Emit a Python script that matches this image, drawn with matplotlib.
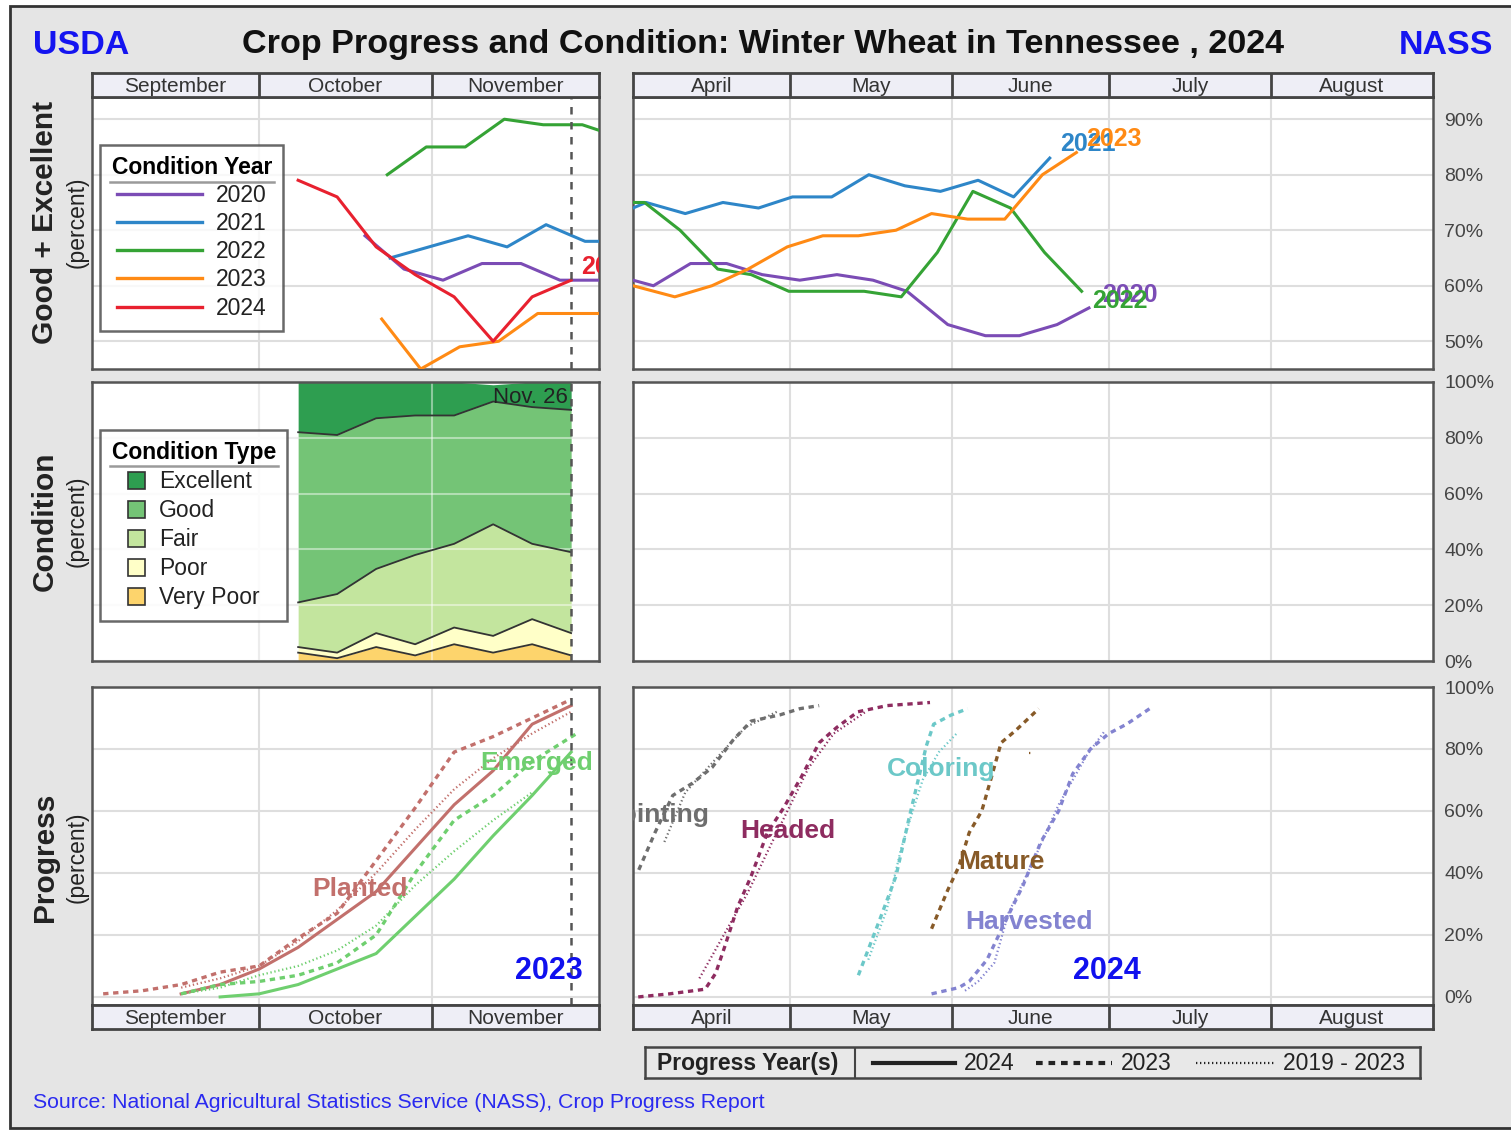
import matplotlib.pyplot as plt
from matplotlib.lines import Line2D
from matplotlib.patches import Rectangle
import numpy as np

plt.rcParams['font.family'] = ['Liberation Sans', 'DejaVu Sans']

W, H = 1511, 1131

# ---------------- data ----------------
# fall panels: x = days after Sep 1, spring panels: x = days after Apr 1
fall_months = ['September', 'October', 'November']
fall_month_len = [30, 31, 30]
spring_months = ['April', 'May', 'June', 'July', 'August']
spring_month_len = [30, 31, 30, 31, 31]

years = ['2020', '2021', '2022', '2023', '2024']
year_colors = ['#7b4cb5', '#2e86c8', '#35a335', '#ff8a14', '#e8212f']

# good + excellent, fall
fall_ge_days = {
    '2020': [49, 56, 63, 70, 77, 84, 91],
    '2021': [53.5, 60.5, 67.5, 74.5, 81.5, 88.5, 91],
    '2022': [53, 60, 67, 74, 81, 88, 91],
    '2023': [52, 59, 66, 73, 80, 87, 91],
    '2024': [37, 44, 51, 58, 65, 72, 79, 86],
}
fall_ge_vals = {
    '2020': [69, 63, 61, 64, 64, 61, 61],
    '2021': [65, 67, 69, 67, 71, 68, 68],
    '2022': [80, 85, 85, 90, 89, 89, 88],
    '2023': [54, 45, 49, 50, 55, 55, 55],
    '2024': [79, 76, 67, 62, 58, 50, 58, 61],
}

# good + excellent, spring
spring_ge_days = {
    '2020': [0, 3.9, 11, 17.9, 24.7, 31.9, 39, 45.9, 52.4, 60.2, 67.4, 73.9, 81.1, 87.2],
    '2021': [0, 2.5, 10, 17.2, 24, 30.5, 38, 45.1, 52, 58.8, 66, 72.8, 79.7],
    '2022': [0, 2.2, 9, 16.2, 22.6, 29.8, 37, 44.2, 51.3, 58.2, 65, 72.2, 78.7, 85.8],
    '2023': [0, 8, 15.1, 22, 29.5, 36.3, 43.1, 50.3, 57.1, 64, 71.1, 78.3, 84.8],
}
spring_ge_vals = {
    '2020': [61, 60, 64, 64, 62, 61, 62, 61, 59, 53, 51, 51, 53, 56],
    '2021': [74, 75, 73, 75, 74, 76, 76, 80, 78, 77, 79, 76, 83],
    '2022': [75, 75, 70, 63, 62, 59, 59, 59, 58, 66, 77, 74, 66, 59],
    '2023': [60, 58, 60, 63, 67, 69, 69, 70, 73, 72, 72, 80, 84],
}

# condition of the 2024 crop (fall 2023)
cond_days = [37, 44, 51, 58, 65, 72, 79, 86]
cond_types = ['Excellent', 'Good', 'Fair', 'Poor', 'Very Poor']
cond_colors = ['#2e9e50', '#74c476', '#c3e59e', '#ffffc8', '#fdd46c']
very_poor = [3, 1, 5, 2, 6, 3, 6, 2]
poor = [2, 2, 5, 4, 6, 6, 9, 8]
fair = [16, 21, 23, 32, 30, 40, 27, 29]
good = [61, 57, 54, 50, 46, 44, 49, 51]
excellent = [18, 19, 13, 12, 12, 6, 9, 10]

# progress, fall (planted / emerged)
planted_24_days = [16, 23, 30, 37, 44, 51, 58, 65, 72, 79, 86]
planted_24 = [1, 4, 9, 16, 25, 34, 48, 62, 73, 88, 94]
planted_23_days = [2, 9, 16, 23, 30, 37, 44, 51, 58, 65, 72, 79, 86]
planted_23 = [1, 2, 4, 8, 10, 19, 27, 44, 61, 79, 84, 90, 96]
planted_avg_days = [16, 23, 30, 37, 44, 51, 58, 65, 72, 79, 86]
planted_avg = [3, 6, 10, 18, 28, 40, 54, 67, 77, 85, 92]

emerged_24_days = [23, 30, 37, 44, 51, 58, 65, 72, 79, 86]
emerged_24 = [0, 1, 4, 9, 14, 26, 38, 52, 65, 79]
emerged_23_days = [16, 23, 30, 37, 44, 51, 58, 65, 72, 79, 87]
emerged_23 = [1, 4, 5, 7, 11, 20, 40, 57, 65, 76, 85]
emerged_avg_days = [16, 23, 30, 37, 44, 51, 58, 65, 72, 79]
emerged_avg = [1, 3, 7, 10, 15, 23, 36, 47, 57, 66]

# progress, spring (2023 and 5-yr average)
jointing_23_days = [1.1, 4.2, 7.6, 11.4, 15.1, 19.2, 22.6, 28.1, 31.9, 35.6]
jointing_23 = [41, 53, 65, 69, 74, 83, 89, 91, 93, 94]
jointing_avg_days = [6, 10, 16.5, 21.5, 27.5]
jointing_avg = [50, 66, 78, 87, 92]

headed_23_days = [1, 7, 13.8, 15.8, 17.5, 20, 22.6, 25.7, 28.8, 32.2, 35.6, 39, 43, 48.6, 56.8]
headed_23 = [0, 1, 2.5, 7.6, 16, 29, 39, 53, 61, 71, 82, 87, 92, 94, 95]
headed_avg_days = [12.7, 17.2, 21.9, 26.8, 33.6, 38.4, 44.5]
headed_avg = [6, 19.5, 33.5, 50.6, 74, 85, 92]

coloring_23_days = [43.1, 47.2, 50.3, 52.7, 54.4, 56.1, 57.5, 60.9, 64]
coloring_23 = [7, 25, 39, 57, 69, 81, 88, 91, 93]
coloring_avg_days = [45, 48.5, 51.3, 53.5, 55.4, 58.5, 61.9]
coloring_avg = [12, 28, 48, 60, 70, 79, 85]

mature_23_days = [57.1, 60.2, 62.3, 64.3, 66.7, 68.4, 70.4, 73.2, 77.6]
mature_23 = [22, 34.5, 42, 53, 60, 70, 82, 86, 93]
mature_avg_days = [75.7, 76.1]
mature_avg = [78.7, 78.7]

harvested_23_days = [57.1, 62.3, 64.3, 67.7, 71.1, 74.6, 78, 81.4, 84.1, 87.5, 91, 94.4, 98.8]
harvested_23 = [1, 3, 5, 12, 24, 36, 50, 60, 72, 80, 85, 88, 93]
harvested_avg_days = [63.5, 66, 69.1, 71.8, 76.6, 81.4, 86.8, 90.3]
harvested_avg = [2, 5, 11, 27, 44, 62, 78, 86]

stage_colors = {'Planted': '#c2706c', 'Emerged': '#6fcf6f', 'Jointing': '#6e6e6e',
                'Headed': '#8e2c60', 'Coloring': '#6cc8c8', 'Mature': '#875a28',
                'Harvested': '#8383d0'}

# ---------------- layout helpers ----------------
fig = plt.figure(figsize=(W / 100, H / 100), dpi=100)
fig.patch.set_facecolor('white')
fig.patches.append(Rectangle((10 / W, 1 - 1128 / H), 1.2, (1128 - 6) / H, transform=fig.transFigure,
                             facecolor='#e5e5e5', edgecolor='#333333', lw=2, zorder=-10))


def px_axes(x0, y0, x1, y1, **kw):
    return fig.add_axes([x0 / W, 1 - y1 / H, (x1 - x0) / W, (y1 - y0) / H], **kw)


SOLID = '-'
DASH = (0, (1.6, 1.4))
DOT = (0, (0.6, 1.2))
GRID = '#dedede'


def style_panel(ax, xmax, month_len, ylim, yticks, ylabels=None, right_labels=True):
    ax.set_xlim(0, xmax)
    ax.set_ylim(*ylim)
    ax.set_facecolor('white')
    ax.set_xticks([])
    ax.set_yticks(yticks)
    for yv in yticks:
        ax.axhline(yv, color=GRID, lw=1.5, zorder=0.5)
    for b in np.cumsum(month_len)[:-1]:
        ax.axvline(b, color=GRID, lw=1.5, zorder=0.5)
    if right_labels:
        ax.yaxis.tick_right()
        ax.set_yticklabels(ylabels, fontsize=14, color='#444444')
        ax.tick_params(axis='y', length=0, pad=8)
    else:
        ax.set_yticklabels([])
        ax.tick_params(axis='y', length=0)
    for s in ax.spines.values():
        s.set_color('#555555')
        s.set_linewidth(1.8)


def month_strip(x0, y0, x1, y1, names, lengths):
    ax = px_axes(x0, y0, x1, y1)
    ax.set_facecolor('#eeeef6')
    ax.set_xlim(0, sum(lengths))
    ax.set_ylim(0, 1)
    ax.set_xticks([])
    ax.set_yticks([])
    edges = np.concatenate([[0], np.cumsum(lengths)])
    for b in edges[1:-1]:
        ax.axvline(b, color='#444444', lw=2)
    for name, a, b in zip(names, edges[:-1], edges[1:]):
        ax.text((a + b) / 2, 0.45, name, ha='center', va='center', fontsize=15, color='#333333')
    for s in ax.spines.values():
        s.set_color('#444444')
        s.set_linewidth(2)
    return ax


def year_legend(ax, handles, labels, title, y_anchor, **kw):
    leg = ax.legend(handles, labels, title=title, loc='upper left',
                    bbox_to_anchor=(0.016, y_anchor), borderaxespad=0, fontsize=16.5,
                    frameon=True, fancybox=False, borderpad=0.5,
                    alignment='center', **kw)
    leg.get_title().set_fontsize(16.5)
    leg.get_title().set_fontweight('bold')
    leg.get_frame().set_edgecolor('#444444')
    leg.get_frame().set_linewidth(1.8)
    for t in leg.get_texts():
        t.set_color('#222222')
    return leg


def fig_hline(x0, x1, y):
    fig.add_artist(Line2D([x0 / W, x1 / W], [1 - y / H, 1 - y / H], color='#9a9a9a', lw=1.8, zorder=20))


LX0, LX1 = 92, 599
RX0, RX1 = 633, 1433
FALL_N = sum(fall_month_len)
SPR_N = sum(spring_month_len)
NOV26 = 86

# ---------------- top row: good + excellent ----------------
ge_ticks = [50, 60, 70, 80, 90]
ax1 = px_axes(LX0, 97, LX1, 369)
style_panel(ax1, FALL_N, fall_month_len, (45, 94), ge_ticks, right_labels=False)
for yr, c in zip(years, year_colors):
    ax1.plot(fall_ge_days[yr], fall_ge_vals[yr], color=c, lw=2.2, zorder=3)
ax1.axvline(NOV26, color='#555555', lw=1.8, ls=(0, (3, 3)), zorder=4)
ax1.text(87.8, 63.3, '2024', color=year_colors[4], fontsize=18, fontweight='bold',
         ha='left', va='center', clip_on=True, zorder=5)
handles = [Line2D([0], [0], color=c, lw=2.4) for c in year_colors]
year_legend(ax1, handles, years, 'Condition Year', 0.824,
            handlelength=3.7, handletextpad=0.6, labelspacing=0.22)
fig_hline(110, 274, 182)

ax2 = px_axes(RX0, 97, RX1, 369)
style_panel(ax2, SPR_N, spring_month_len, (45, 94), ge_ticks, [f'{v}%' for v in ge_ticks])
for yr, c in zip(years[:4], year_colors[:4]):
    ax2.plot(spring_ge_days[yr], spring_ge_vals[yr], color=c, lw=2.2, zorder=3)
lbl_top = {'2021': (81.7, 85.5), '2023': (86.6, 86.4), '2022': (87.8, 57.2), '2020': (89.7, 58.3)}
for yr, c in zip(years[:4], year_colors[:4]):
    x, y = lbl_top[yr]
    ax2.text(x, y, yr, color=c, fontsize=18, fontweight='bold', ha='left', va='center', zorder=5)

month_strip(LX0, 73, LX1, 97, fall_months, fall_month_len)
month_strip(RX0, 73, RX1, 97, spring_months, spring_month_len)

# ---------------- middle row: condition ----------------
cond_ticks = [0, 20, 40, 60, 80, 100]
ax3 = px_axes(LX0, 382, LX1, 661)
style_panel(ax3, FALL_N, fall_month_len, (0, 100), cond_ticks, right_labels=False)
layers = [very_poor, poor, fair, good, excellent]
layer_colors = cond_colors[::-1]
base = np.zeros(len(cond_days))
for vals, c in zip(layers, layer_colors):
    top = base + np.array(vals)
    ax3.fill_between(cond_days, base, top, color=c, lw=0, zorder=1)
    if vals is not excellent:
        ax3.plot(cond_days, top, color='#333333', lw=1.3, zorder=3)
    base = top
for yv in cond_ticks[1:-1]:
    ax3.axhline(yv, color='white', lw=1.5, alpha=0.45, zorder=2)
for b in np.cumsum(fall_month_len)[:-1]:
    ax3.axvline(b, color='white', lw=1.5, alpha=0.45, zorder=2)
ax3.axvline(NOV26, color='#555555', lw=1.8, ls=(0, (3, 3)), zorder=4)
ax3.text(85.5, 94.5, 'Nov. 26', ha='right', va='center', fontsize=16, color='#222222', zorder=5)
patches = [Rectangle((0, 0), 1, 1, facecolor=c, edgecolor='#333333', lw=1.2) for c in cond_colors]
year_legend(ax3, patches, cond_types, 'Condition Type', 0.828,
            handlelength=0.75, handleheight=0.75, handletextpad=0.6, labelspacing=0.26)
fig_hline(110, 278, 466)

ax4 = px_axes(RX0, 382, RX1, 661)
style_panel(ax4, SPR_N, spring_month_len, (0, 100), cond_ticks, [f'{v}%' for v in cond_ticks])

# ---------------- bottom row: progress ----------------
prog_ticks = [0, 20, 40, 60, 80, 100]
ax5 = px_axes(LX0, 687, LX1, 1005)
style_panel(ax5, FALL_N, fall_month_len, (-2.6, 100), prog_ticks[:-1], right_labels=False)
pc, ec = stage_colors['Planted'], stage_colors['Emerged']
ax5.plot(planted_avg_days, planted_avg, color=pc, lw=1.6, ls=DOT, zorder=3)
ax5.plot(planted_23_days, planted_23, color=pc, lw=2.4, ls=DASH, zorder=3)
ax5.plot(planted_24_days, planted_24, color=pc, lw=2.2, ls=SOLID, zorder=3)
ax5.plot(emerged_avg_days, emerged_avg, color=ec, lw=1.6, ls=DOT, zorder=3)
ax5.plot(emerged_23_days, emerged_23, color=ec, lw=2.4, ls=DASH, zorder=3)
ax5.plot(emerged_24_days, emerged_24, color=ec, lw=2.2, ls=SOLID, zorder=3)
ax5.axvline(NOV26, color='#555555', lw=1.8, ls=(0, (3, 3)), zorder=4)
ax5.text(39.5, 34.8, 'Planted', color=pc, fontsize=19, fontweight='bold', ha='left', va='center', zorder=5)
ax5.text(69.6, 75.5, 'Emerged', color=ec, fontsize=19, fontweight='bold', ha='left', va='center', zorder=5)
ax5.text(75.9, 8.4, '2023', color='#1010ee', fontsize=22, fontweight='bold', ha='left', va='center', zorder=5)

ax6 = px_axes(RX0, 687, RX1, 1005)
style_panel(ax6, SPR_N, spring_month_len, (-2.6, 100), prog_ticks, [f'{v}%' for v in prog_ticks])
spring_series = [
    ('Jointing', jointing_23_days, jointing_23, jointing_avg_days, jointing_avg),
    ('Headed', headed_23_days, headed_23, headed_avg_days, headed_avg),
    ('Coloring', coloring_23_days, coloring_23, coloring_avg_days, coloring_avg),
    ('Mature', mature_23_days, mature_23, mature_avg_days, mature_avg),
    ('Harvested', harvested_23_days, harvested_23, harvested_avg_days, harvested_avg),
]
for name, d23, v23, davg, vavg in spring_series:
    c = stage_colors[name]
    ax6.plot(davg, vavg, color=c, lw=1.6, ls=DOT, zorder=3)
    ax6.plot(d23, v23, color=c, lw=2.4, ls=DASH, zorder=3)
lbl_prog = {'Jointing': (14.7, 58.7, 'right'), 'Headed': (20.5, 53.5, 'left'),
            'Coloring': (48.6, 73.5, 'left'), 'Mature': (62.2, 43.5, 'left'),
            'Harvested': (63.5, 24.2, 'left')}
for name, (x, y, ha) in lbl_prog.items():
    ax6.text(x, y, name, color=stage_colors[name], fontsize=19, fontweight='bold',
             ha=ha, va='center', clip_on=True, zorder=5)
ax6.text(84.1, 8.4, '2024', color='#1010ee', fontsize=22, fontweight='bold', ha='left', va='center', zorder=5)

month_strip(LX0, 1005, LX1, 1029, fall_months, fall_month_len)
month_strip(RX0, 1005, RX1, 1029, spring_months, spring_month_len)

# ---------------- titles and side labels ----------------
fig.text(763 / W, 1 - 45 / H, 'Crop Progress and Condition: Winter Wheat in Tennessee , 2024',
         ha='center', va='center', fontsize=24.6, fontweight='bold', color='#111111')
fig.text(33 / W, 1 - 45 / H, 'USDA', ha='left', va='center', fontsize=24.5, fontweight='bold', color='#1414f0')
fig.text(1493 / W, 1 - 45 / H, 'NASS', ha='right', va='center', fontsize=24.5, fontweight='bold', color='#1414f0')

for yc, main in [(222, 'Good + Excellent'), (521, 'Condition'), (857, 'Progress')]:
    fig.text(45 / W, 1 - yc / H, main, rotation=90, ha='center', va='center', fontsize=21.5,
             fontweight='bold', color='#222222')
    fig.text(77 / W, 1 - yc / H, '(percent)', rotation=90, ha='center', va='center', fontsize=16.5,
             color='#222222')

fig.text(33 / W, 1 - 1103 / H, 'Source: National Agricultural Statistics Service (NASS), Crop Progress Report',
         ha='left', va='center', fontsize=15.3, color='#2a2af0')

# ---------------- bottom legend ----------------
lax = px_axes(645, 1047, 1420, 1078)
lax.set_xlim(645, 1420)
lax.set_ylim(0, 1)
lax.set_xticks([])
lax.set_yticks([])
lax.set_facecolor('#e8e8e8')
for s in lax.spines.values():
    s.set_color('#444444')
    s.set_linewidth(1.8)
lax.axvline(855, color='#444444', lw=1.5)
lax.text(748, 0.48, 'Progress Year(s)', ha='center', va='center', fontsize=16.5, fontweight='bold', color='#222222')
for (xa, xb, ls, lw, lab) in [(873, 955, SOLID, 3, '2024'), (1036, 1112, DASH, 3, '2023'),
                              (1196, 1274, DOT, 1.6, '2019 - 2023')]:
    lax.plot([xa, xb], [0.5, 0.5], color='#222222', ls=ls, lw=lw)
    lax.text(xb + 9, 0.48, lab, ha='left', va='center', fontsize=16.5, color='#222222')

fig.savefig('out.png', dpi=100, facecolor=fig.get_facecolor())
